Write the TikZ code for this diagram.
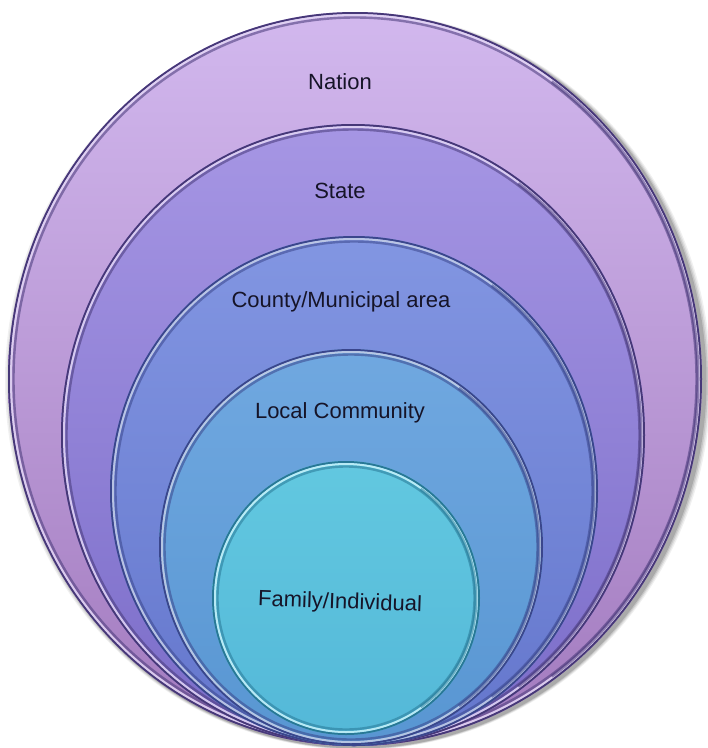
\documentclass[tikz,border=0pt]{standalone}
\usepackage{fontspec}
\setmainfont{Liberation Sans}
\begin{document}
\begin{tikzpicture}[x=1pt,y=-1pt,
  lbl/.style={font=\fontsize{22}{26}\selectfont, text={rgb,255:red,22;green,20;blue,40}}]
\useasboundingbox (0,0) rectangle (708,748);

% one bevelled layer: centre x, centre y, x radius, y radius, top colour, bottom colour, rim dark, rim light
\newcommand\bevellayer[8]{%
  \shade[top color=#5, bottom color=#6] (#1,#2) ellipse [x radius=#3, y radius=#4];
  \draw[line width=2pt, #7] (#1,#2) ellipse [x radius=#3-1, y radius=#4-1];
  \draw[line width=2pt, #8, opacity=.85] (#1,#2) ellipse [x radius=#3-3, y radius=#4-3];
  \draw[line width=2.4pt, #7, opacity=.55] (#1,#2) ellipse [x radius=#3-5.5, y radius=#4-5.5];
  % shadowed rim on the right-hand side
  \draw[line width=3pt, #7, opacity=.5]
    ([shift={(-55:#3-4 and #4-4)}]#1,#2) arc [start angle=-55, end angle=55, x radius=#3-4, y radius=#4-4];
}

\definecolor{natTop}{RGB}{210,184,238}
\definecolor{natBot}{RGB}{162,122,190}
\definecolor{staTop}{RGB}{166,150,228}
\definecolor{staBot}{RGB}{122,108,200}
\definecolor{couTop}{RGB}{130,150,226}
\definecolor{couBot}{RGB}{100,118,204}
\definecolor{locTop}{RGB}{112,168,224}
\definecolor{locBot}{RGB}{88,150,210}
\definecolor{famTop}{RGB}{98,200,224}
\definecolor{famBot}{RGB}{84,184,216}
\definecolor{rimPurple}{RGB}{70,56,120}
\definecolor{rimLilac}{RGB}{226,214,244}
\definecolor{rimBlue}{RGB}{58,70,140}
\definecolor{rimSky}{RGB}{196,206,230}
\definecolor{rimTeal}{RGB}{40,120,150}
\definecolor{rimAqua}{RGB}{200,242,250}

% soft drop shadow behind the outer layer
\foreach \d/\o in {6/0.06,4.5/0.08,3/0.10,1.5/0.14}
  \fill[black, opacity=\o] (358,381) ellipse [x radius=347+\d, y radius=367+\d*0.3];

\bevellayer{355}{379}{347}{367}{natTop}{natBot}{rimPurple}{rimLilac}
\bevellayer{353}{435}{292}{311}{staTop}{staBot}{rimPurple}{rimLilac}
\bevellayer{354}{491}{244}{255}{couTop}{couBot}{rimBlue}{rimSky}
\bevellayer{351}{547}{192}{198}{locTop}{locBot}{rimBlue}{rimSky}
\bevellayer{346}{598}{134}{137}{famTop}{famBot}{rimTeal}{rimAqua}

\node[lbl] (nation) at (340,82) {Nation};
\node[lbl] (state) at (340,191) {State};
\node[lbl] (county) at (341,302) {County/Municipal area};
\node[lbl] (local) at (340,413) {Local Community};
\node[lbl, rotate=-2] (family) at (340,603) {Family/Individual};
\end{tikzpicture}
\end{document}
